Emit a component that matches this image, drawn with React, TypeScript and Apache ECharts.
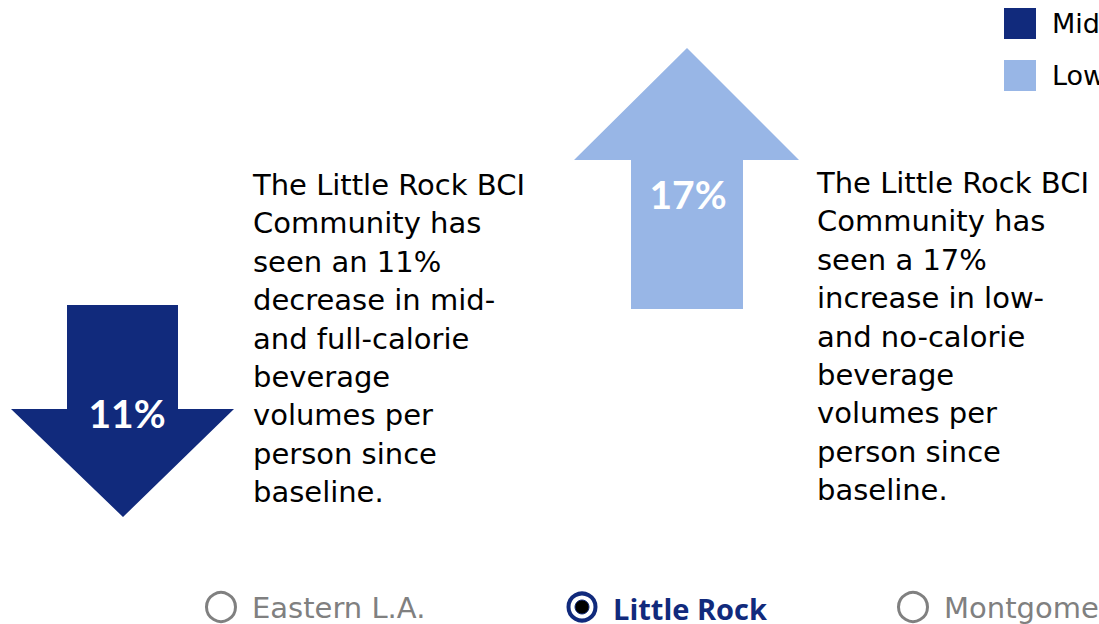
import React, { useEffect, useRef } from "react";
import * as echarts from "echarts";

const communities = ["Eastern L.A.", "Little Rock", "Montgomery"];
const selectedCommunity = "Little Rock";
const legendLabels = ["Mid- and Full-Calorie", "Low- and No-Calorie"];
const seriesColors = ["#112A7C", "#98B6E6"];
const percentChanges = [-11, 17]; // mid/full-calorie, low/no-calorie
const radioX = [221, 582, 913];

const DARK = seriesColors[0];
const LIGHT = seriesColors[1];
const BODY_FONT = "'DejaVu Sans', sans-serif";

export default function App() {
  const ref = useRef<HTMLDivElement>(null);

  useEffect(() => {
    if (!ref.current) return;
    const chart = echarts.init(ref.current, undefined, { renderer: "svg" });

    const mid = Math.abs(percentChanges[0]);
    const low = Math.abs(percentChanges[1]);

    const leftText = [
      `The ${selectedCommunity} BCI`,
      "Community has",
      `seen an ${mid}%`,
      `${percentChanges[0] < 0 ? "decrease" : "increase"} in mid-`,
      "and full-calorie",
      "beverage",
      "volumes per",
      "person since",
      "baseline.",
    ].join("\n");

    const rightText = [
      `The ${selectedCommunity} BCI`,
      "Community has",
      `seen a ${low}%`,
      `${percentChanges[1] < 0 ? "decrease" : "increase"} in low-`,
      "and no-calorie",
      "beverage",
      "volumes per",
      "person since",
      "baseline.",
    ].join("\n");

    const radios: any[] = [];
    communities.forEach((c, i) => {
      const sel = c === selectedCommunity;
      const cx = radioX[i];
      radios.push({
        type: "circle",
        shape: { cx, cy: 607, r: sel ? 13.5 : 14.5 },
        style: { fill: "#fff", stroke: sel ? DARK : "#808080", lineWidth: sel ? 4 : 3 },
      });
      if (sel) {
        radios.push({
          type: "circle",
          shape: { cx, cy: 607, r: 7 },
          style: { fill: "#000", stroke: DARK, lineWidth: 1 },
        });
      }
      radios.push({
        type: "text",
        x: cx + 31,
        y: 608,
        style: {
          text: c,
          fill: sel ? DARK : "#808080",
          font: sel ? "bold 29px 'Open Sans', sans-serif" : `29px ${BODY_FONT}`,
          verticalAlign: "middle",
          align: "left",
        },
      });
    });

    chart.setOption({
      animation: false,
      grid: { left: 0, right: 0, top: 0, bottom: 0, show: false },
      xAxis: { type: "category", show: false, data: [] },
      yAxis: { type: "value", show: false },
      legend: {
        orient: "vertical",
        left: 1004,
        top: 8,
        padding: 0,
        itemWidth: 32,
        itemHeight: 31,
        itemGap: 21,
        icon: "rect",
        selectedMode: false,
        textStyle: {
          fontSize: 27,
          fontFamily: BODY_FONT,
          color: "#000",
          padding: [0, 0, 0, 11],
        },
        data: legendLabels,
      },
      series: legendLabels.map((name, i) => ({
        type: "bar",
        name,
        data: [],
        itemStyle: { color: seriesColors[i] },
      })),
      graphic: [
        {
          type: "polygon",
          shape: {
            points: [
              [67, 305], [178, 305], [178, 409], [234, 409],
              [123, 517], [11, 409], [67, 409],
            ],
          },
          style: { fill: DARK },
        },
        {
          type: "text",
          x: 127,
          y: 413,
          style: {
            text: `${mid}%`,
            fill: "#fff",
            font: "bold 39px Lato, sans-serif",
            align: "center",
            verticalAlign: "middle",
          },
        },
        {
          type: "polygon",
          shape: {
            points: [
              [687, 48], [799, 160], [743, 160], [743, 309],
              [631, 309], [631, 160], [574, 160],
            ],
          },
          style: { fill: LIGHT },
        },
        {
          type: "text",
          x: 688,
          y: 194,
          style: {
            text: `${low}%`,
            fill: "#fff",
            font: "bold 39px Lato, sans-serif",
            align: "center",
            verticalAlign: "middle",
          },
        },
        {
          type: "text",
          x: 253,
          y: 165.8,
          style: {
            text: leftText,
            fill: "#000",
            font: `29px ${BODY_FONT}`,
            lineHeight: 38.4,
            verticalAlign: "top",
            align: "left",
          },
        },
        {
          type: "text",
          x: 817,
          y: 163.8,
          style: {
            text: rightText,
            fill: "#000",
            font: `29px ${BODY_FONT}`,
            lineHeight: 38.4,
            verticalAlign: "top",
            align: "left",
          },
        },
        ...radios,
      ],
    });

    return () => chart.dispose();
  }, []);

  return (
    <div
      ref={ref}
      style={{ position: "fixed", left: 0, top: 0, width: 1099, height: 624, background: "#fff" }}
    />
  );
}
